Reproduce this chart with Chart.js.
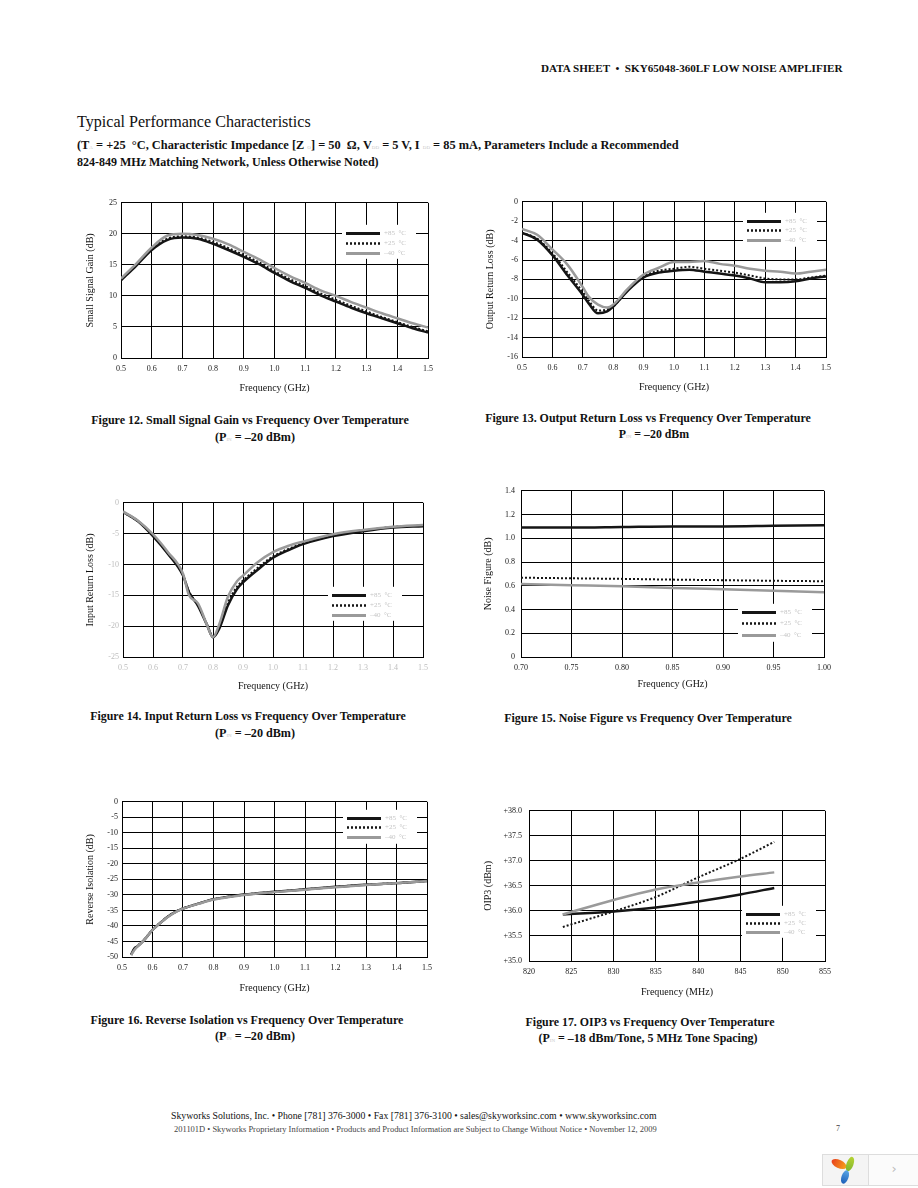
<!DOCTYPE html>
<html><head><meta charset="utf-8">
<script src="https://cdn.jsdelivr.net/npm/chart.js@4.4.0/dist/chart.umd.min.js"></script>
<style>
html,body{margin:0;padding:0;background:#fff;}
body{width:918px;height:1188px;position:relative;overflow:hidden;font-family:'Liberation Serif','Times New Roman',serif;color:#111;}
.t{position:absolute;white-space:nowrap;line-height:1;transform:translateY(-50%);}
.c{transform:translate(-50%,-50%);}
.b{font-weight:bold;}
.s{font-size:5px;color:#c8c8c8;font-weight:normal;}
canvas{position:absolute;}
</style></head><body>

<div class="t b" data-w="302" style="left:541px;top:69px;font-size:10.5px;">DATA SHEET &nbsp;•&nbsp; SKY65048-360LF LOW NOISE AMPLIFIER</div>
<div class="t" data-w="234" style="left:77px;top:122px;font-size:15px;">Typical Performance Characteristics</div>
<div class="t b" data-w="606" style="left:77px;top:145px;font-size:10.5px;">(T<span class="s">A</span> = +25 &nbsp;°C, Characteristic Impedance [Z <span class="s">O</span>] = 50 &nbsp;Ω, V<span class="s">DD</span> = 5 V, I <span class="s">DD</span> = 85 mA, Parameters Include a Recommended</div>
<div class="t b" data-w="302" style="left:77px;top:162px;font-size:10.5px;">824-849 MHz Matching Network, Unless Otherwise Noted)</div>

<div class="t c b" data-w="318" style="left:250px;top:420px;font-size:10.5px;">Figure 12. Small Signal Gain vs Frequency Over Temperature</div>
<div class="t c b" data-w="81" style="left:255px;top:437px;font-size:10.5px;">(P<span class="s">IN</span> = –20 dBm)</div>
<div class="t c b" data-w="326" style="left:648px;top:419px;font-size:10.5px;">Figure 13. Output Return Loss vs Frequency Over Temperature</div>
<div class="t c b" data-w="71" style="left:654px;top:435px;font-size:10.5px;">P<span class="s">IN</span> = –20 dBm</div>

<div class="t c b" data-w="316" style="left:248px;top:717px;font-size:10.5px;">Figure 14. Input Return Loss vs Frequency Over Temperature</div>
<div class="t c b" data-w="81" style="left:255px;top:733px;font-size:10.5px;">(P<span class="s">IN</span> = –20 dBm)</div>
<div class="t c b" data-w="288" style="left:648px;top:719px;font-size:10.5px;">Figure 15. Noise Figure vs Frequency Over Temperature</div>

<div class="t c b" data-w="313" style="left:247px;top:1020px;font-size:10.5px;">Figure 16. Reverse Isolation vs Frequency Over Temperature</div>
<div class="t c b" data-w="81" style="left:255px;top:1036px;font-size:10.5px;">(P<span class="s">IN</span> = –20 dBm)</div>
<div class="t c b" data-w="249" style="left:650px;top:1023px;font-size:10.5px;">Figure 17. OIP3 vs Frequency Over Temperature</div>
<div class="t c b" data-w="220" style="left:648px;top:1039px;font-size:10.5px;">(P<span class="s">IN</span> = –18 dBm/Tone, 5 MHz Tone Spacing)</div>

<div class="t" data-w="486" style="left:171px;top:1116px;font-size:9.5px;">Skyworks Solutions, Inc. • Phone [781] 376-3000 • Fax [781] 376-3100 • sales@skyworksinc.com • www.skyworksinc.com</div>
<div class="t" data-w="483" style="left:174px;top:1129px;font-size:7.5px;color:#444;">201101D • Skyworks Proprietary Information • Products and Product Information are Subject to Change Without Notice • November 12, 2009</div>
<div class="t" style="left:836px;top:1129px;font-size:8px;color:#444;">7</div>

<canvas id="c1"></canvas><canvas id="c2"></canvas><canvas id="c3"></canvas>
<canvas id="c4"></canvas><canvas id="c5"></canvas><canvas id="c6"></canvas>

<div style="position:absolute;left:822px;top:1154px;width:96px;height:32px;box-sizing:border-box;border:1px solid #ddd;border-right:none;background:#f4f4f4;"></div>
<div style="position:absolute;left:868px;top:1155px;width:50px;height:30px;border-left:1px solid #ddd;background:#fbfbfb;"></div>
<div class="t c" style="left:894px;top:1168px;font-family:'DejaVu Sans';font-size:13px;color:#bbb;">›</div>
<svg style="position:absolute;left:826px;top:1154px;" width="40" height="32" viewBox="0 0 40 32">
  <defs>
    <linearGradient id="go" x1="0" x2="1"><stop offset="0" stop-color="#e8401c"/><stop offset="1" stop-color="#f7a21b"/></linearGradient>
    <linearGradient id="gg" x1="0" x2="0" y1="0" y2="1"><stop offset="0" stop-color="#b5d334"/><stop offset="1" stop-color="#7fb52e"/></linearGradient>
    <linearGradient id="gb" x1="0" x2="0" y1="0" y2="1"><stop offset="0" stop-color="#5aa7e6"/><stop offset="1" stop-color="#1c5fb8"/></linearGradient>
  </defs>
  <ellipse cx="13" cy="10" rx="8" ry="4" transform="rotate(25 13 10)" fill="url(#go)"/>
  <ellipse cx="24" cy="10" rx="3.5" ry="7.5" transform="rotate(20 24 10)" fill="url(#gg)"/>
  <ellipse cx="19" cy="23" rx="3.5" ry="7" transform="rotate(20 19 23)" fill="url(#gb)"/>
</svg>

<script>
// ---------------- DATA ----------------
const seriesLabels = ['+85  °C', '+25  °C', '–40  °C'];

// Figure 12 – Small Signal Gain (dB)
const gainFreq = [0.50,0.55,0.60,0.65,0.70,0.75,0.80,0.85,0.90,0.95,1.00,1.05,1.10,1.15,1.20,1.25,1.30,1.35,1.40,1.45,1.50];
const gainP85  = [12.5,14.9,17.4,19.0,19.4,19.2,18.4,17.4,16.3,15.1,13.7,12.4,11.3,10.1,9.1,8.1,7.2,6.4,5.6,4.8,4.1];
const gainP25  = [12.6,15.0,17.5,19.2,19.6,19.4,18.7,17.7,16.6,15.4,14.0,12.7,11.6,10.4,9.4,8.4,7.5,6.6,5.8,5.0,4.3];
const gainM40  = [12.8,15.2,17.8,19.7,20.0,19.8,19.2,18.3,17.1,15.9,14.5,13.2,12.1,10.9,10.0,9.0,8.1,7.2,6.4,5.6,4.9];

// Figure 13 – Output Return Loss (dB)
const orlFreq = [0.50,0.55,0.60,0.65,0.70,0.72,0.75,0.78,0.80,0.85,0.90,0.95,1.00,1.05,1.10,1.15,1.20,1.25,1.30,1.35,1.40,1.45,1.50];
const orlP85  = [-3.2,-3.9,-5.5,-7.6,-9.6,-10.5,-11.5,-11.3,-10.8,-9.1,-7.8,-7.3,-7.1,-7.0,-7.2,-7.4,-7.6,-7.9,-8.3,-8.3,-8.2,-7.9,-7.7];
const orlP25  = [-3.2,-3.8,-5.3,-7.3,-9.3,-10.2,-11.2,-11.1,-10.8,-9.0,-7.7,-7.1,-6.9,-6.7,-6.9,-7.1,-7.3,-7.6,-7.9,-8.0,-8.0,-7.8,-7.6];
const orlM40  = [-2.8,-3.4,-4.9,-6.5,-8.8,-9.8,-10.6,-10.9,-10.6,-8.9,-7.5,-6.8,-6.2,-6.2,-6.1,-6.4,-6.6,-6.9,-7.1,-7.2,-7.4,-7.2,-7.0];

// Figure 14 – Input Return Loss (dB)
const irlFreq = [0.50,0.55,0.60,0.65,0.70,0.72,0.75,0.78,0.80,0.82,0.85,0.88,0.90,0.95,1.00,1.05,1.10,1.20,1.30,1.40,1.50];
const irlP85  = [-1.5,-3.0,-5.4,-8.3,-11.8,-14.5,-16.7,-19.8,-21.8,-20.5,-16.6,-14.0,-12.9,-10.8,-8.9,-7.7,-6.7,-5.4,-4.6,-4.0,-3.8];
const irlP25  = [-1.5,-3.0,-5.3,-8.2,-11.7,-14.4,-16.6,-19.7,-21.7,-20.3,-16.2,-13.6,-12.6,-10.5,-8.7,-7.5,-6.6,-5.3,-4.5,-3.9,-3.7];
const irlM40  = [-1.4,-2.9,-5.1,-8.0,-11.5,-15.0,-16.3,-19.8,-21.8,-19.8,-15.2,-12.7,-11.8,-9.6,-8.0,-7.0,-6.3,-5.1,-4.4,-3.9,-3.6];

// Figure 15 – Noise Figure (dB)
const nfFreq = [0.70,0.75,0.80,0.85,0.90,0.95,1.00];
const nfP85  = [1.09,1.09,1.095,1.10,1.10,1.105,1.11];
const nfP25  = [0.668,0.663,0.658,0.652,0.647,0.642,0.638];
const nfM40  = [0.615,0.605,0.595,0.582,0.570,0.558,0.546];

// Figure 16 – Reverse Isolation (dB)
const riFreq = [0.53,0.54,0.55,0.57,0.60,0.62,0.65,0.68,0.70,0.75,0.80,0.85,0.90,1.00,1.10,1.20,1.30,1.40,1.50];
const riP85  = [-49.3,-47.3,-46.6,-44.8,-41.3,-39.5,-37.0,-35.2,-34.4,-32.8,-31.4,-30.6,-29.9,-29.0,-28.2,-27.4,-26.7,-26.2,-25.5];
const riP25  = [-49.2,-47.5,-46.5,-44.7,-41.2,-39.4,-37.0,-35.2,-34.3,-32.8,-31.4,-30.6,-29.9,-29.0,-28.2,-27.4,-26.7,-26.2,-25.5];
const riM40  = [-49.4,-47.8,-46.7,-44.8,-41.3,-39.5,-37.1,-35.3,-34.4,-32.9,-31.5,-30.7,-30.0,-29.1,-28.3,-27.5,-26.8,-26.2,-25.5];

// Figure 17 – OIP3 (dBm)
const oipFreq = [824,830,835,840,845,849];
const oipP85  = [35.93,35.99,36.07,36.19,36.33,36.46];
const oipP25  = [35.68,35.99,36.28,36.67,37.04,37.38];
const oipM40  = [35.93,36.22,36.43,36.57,36.69,36.77];

// ---------------- RENDER ----------------
document.querySelectorAll('[data-w]').forEach(el => {
  const w = el.getBoundingClientRect().width, tgt = +el.dataset.w;
  const fs = parseFloat(el.style.fontSize);
  el.style.fontSize = (fs * tgt / w) + 'px';
});

const F = "'Liberation Serif','Times New Roman',serif";

const boxLegend = {
  id: 'boxLegend',
  beforeDatasetsDraw(chart, args, o) {
    const {ctx, chartArea: a} = chart;
    const x = a.left + o.x, y = a.top + o.y;
    ctx.save();
    ctx.fillStyle = '#fff';
    ctx.fillRect(x, y, o.w, o.h);
    chart.data.datasets.forEach((ds, i) => {
      const ry = Math.round(y + o.r0 + i * o.gap) + 0.5;
      ctx.beginPath();
      ctx.strokeStyle = ds.borderColor;
      ctx.lineWidth = ds.borderWidth + 0.5;
      ctx.setLineDash(ds.borderDash || []);
      ctx.moveTo(x + 4, ry); ctx.lineTo(x + 38, ry);
      ctx.stroke();
      ctx.setLineDash([]);
      ctx.fillStyle = '#c4c4c4';
      ctx.font = '7px ' + F;
      ctx.textBaseline = 'middle';
      ctx.fillText(ds.label, x + 42, ry);
    });
    ctx.restore();
  }
};

function sets(xs, a, b, c) {
  const pts = v => xs.map((x, i) => ({x, y: v[i]}));
  return [
    {label: seriesLabels[0], data: pts(a), borderColor: '#151515', borderWidth: 2.5, order: 2},
    {label: seriesLabels[1], data: pts(b), borderColor: '#151515', borderWidth: 2, borderDash: [2, 2], order: 1},
    {label: seriesLabels[2], data: pts(c), borderColor: '#9a9a9a', borderWidth: 2.5, order: 0}
  ];
}

function mk(id, g, xs, ys, datasets, leg) {
  const cx = g.yt - 6, cy = g.t - 8;
  const cw = g.r + 10 - cx, ch = Math.round(g.xt + 6 - cy);
  const cv = document.getElementById(id);
  cv.width = cw; cv.height = ch;
  cv.style.left = cx + 'px'; cv.style.top = cy + 'px';
  const tc = g.tc || '#1a1a1a';
  new Chart(cv, {
    type: 'line',
    data: {datasets},
    options: {
      responsive: false, animation: false, events: [],
      layout: {padding: {top: g.t - cy, right: cx + cw - g.r, left: 0, bottom: 0}},
      elements: {point: {radius: 0}, line: {cubicInterpolationMode: 'monotone', borderCapStyle: 'butt'}},
      plugins: {legend: {display: false}, tooltip: {enabled: false}, boxLegend: Object.assign({w: 74, h: 34, r0: 8, gap: 10}, leg)},
      scales: {
        x: {
          type: 'linear', min: xs.min, max: xs.max,
          ticks: {stepSize: xs.step, autoSkip: false, maxRotation: 0, padding: 6, color: tc, font: {family: F, size: 8}, callback: xs.fmt},
          grid: {color: '#000', lineWidth: 1, drawTicks: false},
          border: {color: '#000', width: 1},
          title: {display: true, text: xs.title, color: '#111', font: {family: F, size: 10}, padding: 0},
          afterFit(s) { s.height = ch - (g.b - cy); }
        },
        y: {
          type: 'linear', min: ys.min, max: ys.max,
          ticks: {stepSize: ys.step, autoSkip: false, padding: g.yp || 4, color: tc, font: {family: F, size: 8}, callback: ys.fmt},
          grid: {color: '#000', lineWidth: 1, drawTicks: false},
          border: {color: '#000', width: 1},
          title: {display: true, text: ys.title, color: '#111', font: {family: F, size: 10}, padding: 0},
          afterFit(s) { s.width = g.l - cx; }
        }
      }
    },
    plugins: [boxLegend]
  });
}

const ghz = {min: 0.5, max: 1.5, step: 0.1, title: 'Frequency (GHz)', fmt: v => v.toFixed(1)};
const intFmt = v => String(Math.round(v));

mk('c1', {l: 121, r: 429, t: 202, b: 358, yt: 90, xt: 387.5}, ghz,
   {min: 0, max: 25, step: 5, title: 'Small Signal Gain (dB)', fmt: intFmt},
   sets(gainFreq, gainP85, gainP25, gainM40), {x: 221, y: 22});

mk('c2', {l: 522, r: 827, t: 201, b: 357, yt: 490, xt: 387}, ghz,
   {min: -16, max: 0, step: 2, title: 'Output Return Loss (dB)', fmt: intFmt},
   sets(orlFreq, orlP85, orlP25, orlM40), {x: 221, y: 11, gap: 9.5});

mk('c3', {l: 123, r: 424, t: 502, b: 657, yt: 90, xt: 686, tc: '#bdbdbd'}, ghz,
   {min: -25, max: 0, step: 5, title: 'Input Return Loss (dB)', fmt: intFmt},
   sets(irlFreq, irlP85, irlP25, irlM40), {x: 205, y: 84});

mk('c4', {l: 521, r: 827, t: 488, b: 657, yt: 488, xt: 684, yp: 6},
   {min: 0.70, max: 1.00, step: 0.05, title: 'Frequency (GHz)', fmt: v => v.toFixed(2)},
   {min: 0, max: 1.4, step: 0.2, title: 'Noise Figure (dB)', fmt: v => Math.abs(v) < 1e-9 ? '0' : v.toFixed(1)},
   sets(nfFreq, nfP85, nfP25, nfM40), {x: 217, y: 113, h: 38, gap: 11.5});

mk('c5', {l: 122, r: 428, t: 801, b: 957, yt: 90, xt: 988}, ghz,
   {min: -50, max: 0, step: 5, title: 'Reverse Isolation (dB)', fmt: intFmt},
   sets(riFreq, riP85, riP25, riM40), {x: 221, y: 8, gap: 9.5});

mk('c6', {l: 529, r: 827, t: 807, b: 961, yt: 488, xt: 992, yp: 7},
   {min: 820, max: 855, step: 5, title: 'Frequency (MHz)', fmt: intFmt},
   {min: 35, max: 38, step: 0.5, title: 'OIP3 (dBm)', fmt: v => '+' + v.toFixed(1)},
   sets(oipFreq, oipP85, oipP25, oipM40), {x: 213, y: 95, h: 32, gap: 9});
</script>
</body></html>
